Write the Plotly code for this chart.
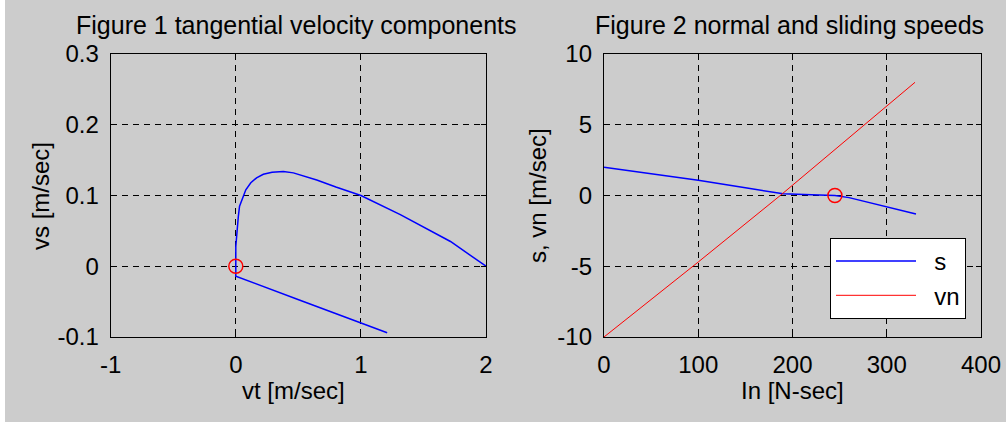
import plotly.graph_objects as go

# ---------------- data ----------------
vt = [2.0, 1.716, 1.315, 1.0, 0.8, 0.647, 0.46, 0.38, 0.29, 0.22, 0.166, 0.12, 0.08, 0.05,
      0.03, 0.02, 0.01, 0.0, 0.0, 0.0, 0.513, 1.21]
vs = [0.0, 0.035, 0.073, 0.1, 0.112, 0.122, 0.132, 0.134, 0.133, 0.13, 0.125, 0.118, 0.108,
      0.095, 0.085, 0.07, 0.045, 0.028, 0.0, -0.014, -0.048, -0.094]
mark1_vt = [0.0]
mark1_vs = [0.0]

In_s = [0, 50, 100, 150, 190, 220, 245, 260, 300, 331]
s_vals = [2.0, 1.55, 1.08, 0.55, 0.12, 0.05, 0.0, -0.15, -0.8, -1.3]
In_vn = [0, 100, 187, 250, 300, 330]
vn_vals = [-10.0, -4.7, 0.0, 3.5, 6.3, 8.0]
mark2_In = [245]
mark2_s = [0.0]

x1_ticks = [-1, 0, 1, 2]
x1_labels = ["-1", "0", "1", "2"]
y1_ticks = [-0.1, 0, 0.1, 0.2, 0.3]
y1_labels = ["-0.1", "0", "0.1", "0.2", "0.3"]
x2_ticks = [0, 100, 200, 300, 400]
x2_labels = ["0", "100", "200", "300", "400"]
y2_ticks = [-10, -5, 0, 5, 10]
y2_labels = ["-10", "-5", "0", "5", "10"]

W, H = 1006, 424
FONT = "Liberation Sans, Arial, sans-serif"
NB = "\u00a0\u00a0"

fig = go.Figure()
fig.add_trace(go.Scatter(x=vt, y=vs, mode="lines", line=dict(color="#0000ff", width=1.5),
                         showlegend=False, xaxis="x", yaxis="y"))
fig.add_trace(go.Scatter(x=mark1_vt, y=mark1_vs, mode="markers",
                         marker=dict(symbol="circle-open", size=14, color="#ff0000",
                                     line=dict(width=1.5, color="#ff0000")),
                         showlegend=False, xaxis="x", yaxis="y"))
fig.add_trace(go.Scatter(x=In_s, y=s_vals, mode="lines", name=NB + "s",
                         line=dict(color="#0000ff", width=1.5), legendgroup="a",
                         xaxis="x2", yaxis="y2"))
fig.add_trace(go.Scatter(x=In_vn, y=vn_vals, mode="lines", name=NB + "vn",
                         line=dict(color="#ff0000", width=1), legendgroup="b",
                         xaxis="x2", yaxis="y2"))
fig.add_trace(go.Scatter(x=mark2_In, y=mark2_s, mode="markers",
                         marker=dict(symbol="circle-open", size=14, color="#ff0000",
                                     line=dict(width=1.5, color="#ff0000")),
                         showlegend=False, xaxis="x2", yaxis="y2"))

ydom = [1 - 337 / H, 1 - 54 / H]
axis_common = dict(showline=True, linecolor="black", linewidth=1.3, mirror="ticks",
                   ticks="inside", ticklen=5, tickcolor="black", showgrid=True,
                   gridcolor="black", gridwidth=1, griddash="6px,5px", zeroline=False,
                   tickfont=dict(family=FONT, size=24, color="black"),
                   ticklabelstandoff=6, automargin=False)

fig.update_layout(
    width=W, height=H,
    margin=dict(l=0, r=0, t=0, b=0, pad=0, autoexpand=False),
    paper_bgcolor="white", plot_bgcolor="white",
    font=dict(family=FONT, color="black"),
    xaxis=dict(domain=[110.7 / W, 486 / W], range=[-1, 2], tickvals=x1_ticks,
               ticktext=x1_labels, anchor="y", **axis_common),
    yaxis=dict(domain=ydom, range=[-0.1, 0.3], tickvals=y1_ticks, ticktext=y1_labels,
               anchor="x", **axis_common),
    xaxis2=dict(domain=[604 / W, 981 / W], range=[0, 400], tickvals=x2_ticks,
                ticktext=x2_labels, anchor="y2", **axis_common),
    yaxis2=dict(domain=ydom, range=[-10, 10], tickvals=y2_ticks, ticktext=y2_labels,
                anchor="x2", **axis_common),
    legend=dict(x=830 / W, y=1 - 238 / H, xanchor="left", yanchor="top",
                bgcolor="white", bordercolor="black", borderwidth=1,
                font=dict(family=FONT, size=24, color="black"),
                itemwidth=80, tracegroupgap=0, traceorder="grouped"),
    shapes=[dict(type="rect", xref="paper", yref="paper", x0=5 / W, x1=1, y0=2 / H, y1=1,
                 fillcolor="#cccccc", line=dict(width=0), layer="below")],
    annotations=[
        dict(text="Figure 1 tangential velocity components", x=296 / W, y=1 - 25 / H,
             xref="paper", yref="paper", showarrow=False, xanchor="center", yanchor="middle",
             font=dict(family=FONT, size=25, color="black")),
        dict(text="Figure 2 normal and sliding speeds", x=789 / W, y=1 - 25 / H,
             xref="paper", yref="paper", showarrow=False, xanchor="center", yanchor="middle",
             font=dict(family=FONT, size=25, color="black")),
        dict(text="vt [m/sec]", x=293 / W, y=1 - 390 / H, xref="paper", yref="paper",
             showarrow=False, xanchor="center", yanchor="middle",
             font=dict(family=FONT, size=24, color="black")),
        dict(text="In [N-sec]", x=792 / W, y=1 - 390 / H, xref="paper", yref="paper",
             showarrow=False, xanchor="center", yanchor="middle",
             font=dict(family=FONT, size=24, color="black")),
        dict(text="vs [m/sec]", x=40 / W, y=1 - 196 / H, xref="paper", yref="paper",
             showarrow=False, xanchor="center", yanchor="middle", textangle=-90,
             font=dict(family=FONT, size=24, color="black")),
        dict(text="s, vn [m/sec]", x=537 / W, y=1 - 196 / H, xref="paper", yref="paper",
             showarrow=False, xanchor="center", yanchor="middle", textangle=-90,
             font=dict(family=FONT, size=24, color="black")),
    ],
)

fig.write_html("out.html", config={"displayModeBar": False},
               post_script="document.body.style.margin='0';document.body.style.padding='0';")
